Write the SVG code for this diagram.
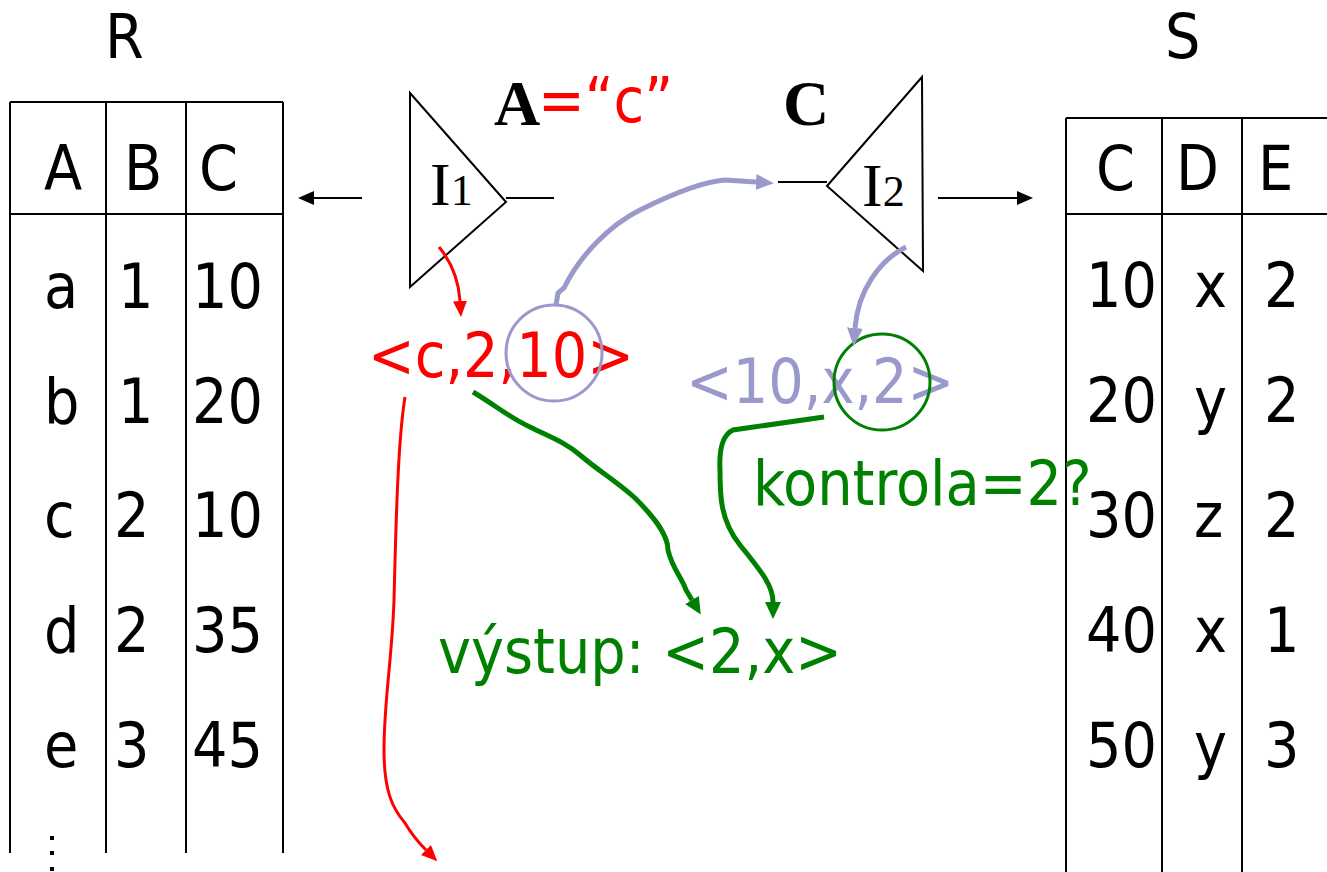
<svg xmlns="http://www.w3.org/2000/svg" width="1327" height="872" viewBox="0 0 1327 872">
<style>
.t{font-family:"DejaVu Sans Condensed","DejaVu Sans",sans-serif;font-size:62px;font-stretch:condensed;fill:#000}
.serif{font-family:"Liberation Serif","Times New Roman",serif;fill:#000}
.grid{stroke:#000;stroke-width:2;fill:none}
.red{fill:#FF0000}
.blue{fill:#9999CC}
.green{fill:#008000}
.cr{stroke:#FF0000;stroke-width:3;fill:none}
.cb{stroke:#9999CC;stroke-width:5;fill:none}
.cg{stroke:#008000;stroke-width:5;fill:none}
.ck{stroke:#000;stroke-width:2;fill:none}
</style>
<defs>
<marker id="mk" markerUnits="userSpaceOnUse" markerWidth="20" markerHeight="16" refX="0" refY="7" orient="auto"><path d="M0,0 L16,7 L0,14 Z" fill="#000"/></marker>
<marker id="mr" markerUnits="userSpaceOnUse" markerWidth="20" markerHeight="16" refX="0" refY="7" orient="auto"><path d="M0,0 L16,7 L0,14 Z" fill="#FF0000"/></marker>
<marker id="mb" markerUnits="userSpaceOnUse" markerWidth="22" markerHeight="18" refX="0" refY="8" orient="auto"><path d="M0,0 L18,8 L0,16 Z" fill="#9999CC"/></marker>
<marker id="mg" markerUnits="userSpaceOnUse" markerWidth="22" markerHeight="18" refX="0" refY="8" orient="auto"><path d="M0,0 L17,8 L0,16 Z" fill="#008000"/></marker>
</defs>

<g id="table-R">
<text class="t" x="105" y="58">R</text>
<path class="grid" d="M10,102 H283 M10,214 H283 M10,102 V853 M106,102 V853 M186,102 V853 M283,102 V853"/>
<text class="t" x="44" y="190">A</text><text class="t" x="124" y="190">B</text><text class="t" x="199" y="190">C</text>
<text class="t" x="44" y="308">a</text><text class="t" x="118" y="308">1</text><text class="t" x="192" y="308">10</text>
<text class="t" x="44" y="423">b</text><text class="t" x="118" y="423">1</text><text class="t" x="192" y="423">20</text>
<text class="t" x="44" y="537">c</text><text class="t" x="114" y="537">2</text><text class="t" x="192" y="537">10</text>
<text class="t" x="44" y="652">d</text><text class="t" x="114" y="652">2</text><text class="t" x="192" y="652">35</text>
<text class="t" x="44" y="767">e</text><text class="t" x="114" y="767">3</text><text class="t" x="192" y="767">45</text>
<rect x="50" y="836" width="4" height="4" fill="#000"/><rect x="50" y="851" width="4" height="4" fill="#000"/><rect x="50" y="867" width="4" height="4" fill="#000"/>
</g>

<g id="table-S">
<text class="t" x="1165" y="58">S</text>
<path class="grid" d="M1066,118 H1327 M1066,214 H1327 M1066,118 V872 M1162,118 V872 M1242,118 V872"/>
<text class="t" x="1096" y="190">C</text><text class="t" x="1176" y="190">D</text><text class="t" x="1258" y="190">E</text>
<text class="t" x="1086" y="307">10</text><text class="t" x="1194" y="307">x</text><text class="t" x="1264" y="307">2</text>
<text class="t" x="1086" y="422">20</text><text class="t" x="1194" y="422">y</text><text class="t" x="1264" y="422">2</text>
<text class="t" x="1086" y="537">30</text><text class="t" x="1194" y="537">z</text><text class="t" x="1264" y="537">2</text>
<text class="t" x="1086" y="652">40</text><text class="t" x="1194" y="652">x</text><text class="t" x="1264" y="652">1</text>
<text class="t" x="1086" y="767">50</text><text class="t" x="1194" y="767">y</text><text class="t" x="1264" y="767">3</text>
</g>

<g id="index-I1">
<path class="ck" d="M410,93 L410,287 L506,202 Z"/>
<text class="serif" x="430" y="205" font-size="62">I<tspan font-size="44">1</tspan></text>
<text class="serif" x="494" y="125" font-size="64" font-weight="bold">A</text>
<text class="t red" x="538" y="122">=“c”</text>
</g>

<g id="index-I2">
<path class="ck" d="M922,77 L827,186 L923,271 Z"/>
<text class="serif" x="862" y="206" font-size="62">I<tspan font-size="44">2</tspan></text>
<text class="serif" x="783" y="125" font-size="64" font-weight="bold">C</text>
</g>

<g id="tuples">
<text class="t red" x="368" y="377">&lt;c,2,10&gt;</text>
<circle cx="554" cy="353" r="48" fill="none" stroke="#9999CC" stroke-width="3"/>
<text class="t blue" x="686" y="403">&lt;10,x,2&gt;</text>
<circle cx="882" cy="382" r="48" fill="none" stroke="#008000" stroke-width="3"/>
<text class="t green" x="753" y="505">kontrola=2?</text>
<text class="t green" x="438" y="673">výstup: &lt;2,x&gt;</text>
</g>

<g id="connectors">
<path class="ck" d="M362,198 L314,198" marker-end="url(#mk)"/>
<path class="ck" d="M506,198 L554,198"/>
<path class="ck" d="M778,182 L827,182"/>
<path class="ck" d="M938,198 L1017,198" marker-end="url(#mk)"/>
<path class="cr" d="M439,247 Q458,270 460,301" marker-end="url(#mr)"/>
<path class="cr" d="M405,397 C398,440 396,520 394,600 C392,660 384,700 384,750 C384,790 392,808 405,823 C412,835 418,842 426,850" marker-end="url(#mr)"/>
<path class="cb" d="M556,305 L558,293 L564,288 C580,255 610,225 640,210 C670,195 700,182 725,180 L756,182" marker-end="url(#mb)"/>
<path class="cb" d="M906,247 C880,260 858,290 855,328" marker-end="url(#mb)"/>
<path class="cg" d="M824,417 L733,430 C722,435 719,450 720,470 C720,495 720,520 740,545 C760,570 773,585 773,602" marker-end="url(#mg)"/>
<path class="cg" d="M473,392 C495,405 510,418 530,427 C550,437 565,442 580,455 C600,472 615,480 635,498 C655,518 668,535 668,550 C672,568 682,578 686,590 L692,600" marker-end="url(#mg)"/>
</g>
</svg>
